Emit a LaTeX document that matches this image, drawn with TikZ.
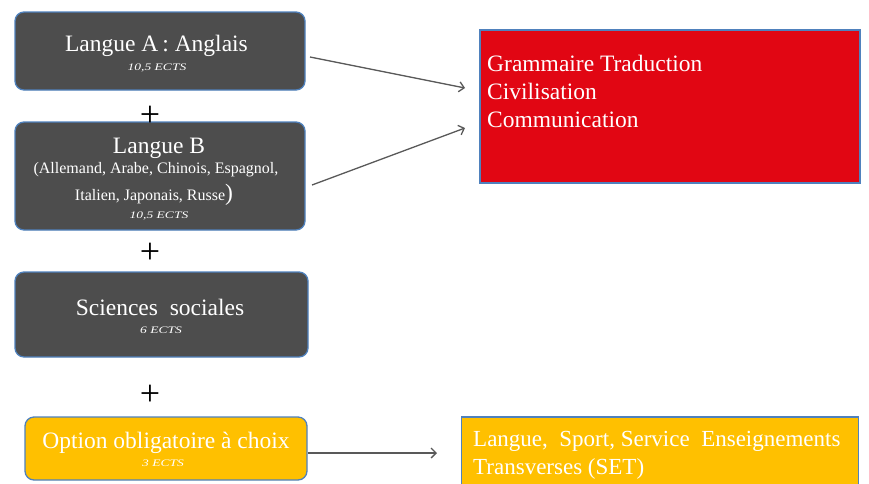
\documentclass[tikz,border=0pt]{standalone}
\usepackage{fontspec}
\usepackage{graphicx}
\setmainfont{Liberation Serif}
\usetikzlibrary{positioning,arrows.meta}

\definecolor{cinza}{HTML}{4D4D4D}
\definecolor{borda}{HTML}{4F81BD}
\definecolor{vermelho}{HTML}{E10613}
\definecolor{amarelo}{HTML}{FFC000}
\definecolor{seta}{HTML}{595959}

\newcommand{\creditos}[1]{\scalebox{1.35}[1]{\fontsize{10}{11}\selectfont\itshape #1}}

\begin{document}
\begin{tikzpicture}[x=1pt,y=-1pt,
		caixa/.style={draw=borda, line width=1.3pt, rounded corners=9pt},
		bloco/.style={draw=borda, line width=1.2pt},
		titulo/.style={anchor=base, text=white, inner sep=0pt, font=\fontsize{23.5}{26}\selectfont},
		ects/.style={anchor=base, text=white, inner sep=0pt},
		lista/.style={anchor=base, text=white, inner sep=0pt, font=\fontsize{16}{18}\selectfont},
		mais/.style={inner sep=0pt, font=\fontsize{36}{36}\selectfont},
		ligacao/.style={draw=seta, line width=1.3pt, -{Straight Barb[length=5pt,width=10pt]}}]
		\useasboundingbox (0,0) rectangle (869,483);
		\clip (0,0) rectangle (869,483);
		
		% Caixas da esquerda
		\node[caixa, fill=cinza, minimum width=290pt, minimum height=78pt] (langueA) at (160,51) {};
		\node[titulo] (tA) at (156.5,51) {Langue A\,: Anglais};
		\node[ects] (eA) at (157,70) {\creditos{10,5 ECTS}};
		
		\node[caixa, fill=cinza, minimum width=290pt, minimum height=108pt] (langueB) at (160,176) {};
		\node[titulo] (tB) at (159,153) {Langue B};
		\node[lista] (lB1) at (156,173) {(Allemand, Arabe, Chinois, Espagnol,};
		\node[lista] (lB2) at (154,200) {Italien, Japonais, Russe{\fontsize{23.5}{26}\selectfont)}};
		\node[ects] (eB) at (159,218) {\creditos{10,5 ECTS}};
		
		\node[caixa, fill=cinza, minimum width=293pt, minimum height=85pt] (sciences) at (161.5,314.5) {};
		\node[titulo] (tC) at (160,315) {Sciences\ \ sociales};
		\node[ects] (eC) at (161,333) {\creditos{6 ECTS}};
		
		\node[caixa, fill=amarelo, minimum width=282pt, minimum height=63pt] (option) at (166,448.5) {};
		\node[titulo] (tD) at (166,448) {Option obligatoire à choix};
		\node[ects] (eD) at (163,466) {\creditos{3 ECTS}};
		
		% Sinais de soma
		\node[mais] (mais1) at (150,116) {+};
		\node[mais] (mais2) at (150,253) {+};
		\node[mais] (mais3) at (150,395) {+};
		
		% Caixas da direita
		\node[bloco, fill=vermelho, minimum width=380pt, minimum height=153pt] (cours) at (670,106.5) {};
		\node[anchor=north west, text=white, align=left, inner sep=0pt,
			font=\fontsize{23.5}{28}\selectfont] (coursTxt) at (487,55)
			{Grammaire Traduction\\Civilisation\\Communication};
		\node[bloco, fill=amarelo, minimum width=397pt, minimum height=80pt] (options) at (660,457) {};
		\node[anchor=north west, text=white, align=left, inner sep=0pt,
			font=\fontsize{23}{28}\selectfont] (optionsTxt) at (473,431)
			{Langue,\ \ Sport, Service\ \ Enseignements\\Transverses (SET)};
		
		% Setas
		\coordinate (iniA) at (310,57);
		\coordinate (iniB) at (312,185);
		\coordinate (iniO) at (308,453);
		\coordinate (fimA) at (465,88);
		\coordinate (fimB) at (465,128);
		\coordinate (fimO) at (437,453);
		\draw[ligacao] (iniA) -- (fimA);
		\draw[ligacao] (iniB) -- (fimB);
		\draw[ligacao] (iniO) -- (fimO);
	\end{tikzpicture}
\end{document}
